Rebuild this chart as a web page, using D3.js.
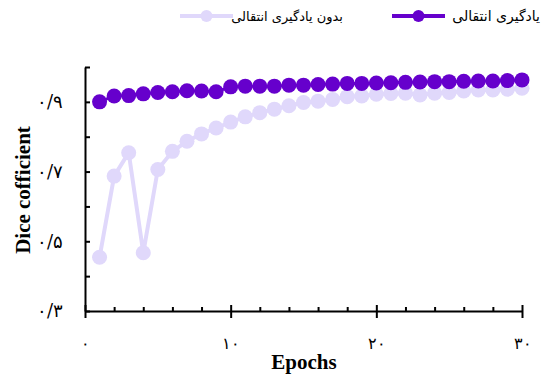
<!DOCTYPE html>
<html>
<head>
<meta charset="utf-8">
<script src="https://cdn.jsdelivr.net/npm/d3@7"></script>
<style>
  body { margin: 0; background: #fff; }
  .axis path, .axis line { stroke: #000; stroke-width: 2; }
  .axis text { font-family: "DejaVu Serif", "Liberation Serif", serif; font-size: 16px; fill: #000; }
  .axis.ylab text { font-size: 18px; }
</style>
</head>
<body>
<div id="chart"></div>
<script>
const width = 545;
const height = 374;

// ----------------------------DATA-------------------------------//
const epochs = d3.range(1, 31);
const withTransfer = [
  0.900, 0.917, 0.918, 0.923, 0.927, 0.929, 0.932, 0.931, 0.929, 0.943,
  0.945, 0.945, 0.945, 0.948, 0.948, 0.950, 0.951, 0.953, 0.953, 0.954,
  0.955, 0.956, 0.957, 0.958, 0.958, 0.959, 0.960, 0.960, 0.961, 0.963,
];
const withoutTransfer = [
  0.454, 0.687, 0.754, 0.467, 0.706, 0.758, 0.787, 0.808, 0.825, 0.842,
  0.857, 0.869, 0.879, 0.889, 0.898, 0.902, 0.907, 0.915, 0.917, 0.922,
  0.924, 0.925, 0.920, 0.925, 0.927, 0.931, 0.934, 0.934, 0.936, 0.939,
];
const seriesNames = ['یادگیری انتقالی', 'بدون یادگیری انتقالی'];
const yTicks = [0.3, 0.4, 0.5, 0.6, 0.7, 0.8, 0.9, 1.0];
const yLabels = { 0.3: '۰/۳', 0.5: '۰/۵', 0.7: '۰/۷', 0.9: '۰/۹' };
const xMajor = [0, 10, 20, 30];
const xMinor = [2, 4, 6, 8, 12, 14, 16, 18, 22, 24, 26, 28];
const xLabels = { 0: '۰', 10: '۱۰', 20: '۲۰', 30: '۳۰' };

const dark = '#6600cc';
const light = '#e0d8fb';

const svg = d3.select('#chart').append('svg')
  .attr('width', width)
  .attr('height', height);

// ----------------------------SCALES-----------------------------//
const xScale = d3.scaleLinear().domain([0, 30]).range([85, 522]);
const yScale = d3.scaleLinear().domain([0.3, 1.0]).range([311, 67]);

// -----------------------------AXES------------------------------//
// y ticks point inward, labels sit on the left
svg.append('g')
  .attr('class', 'axis')
  .attr('transform', `translate(${xScale(0)},0)`)
  .call(d3.axisRight(yScale).tickValues(yTicks).tickSize(5).tickSizeOuter(0).tickFormat(''));

svg.append('g')
  .attr('class', 'axis ylab')
  .attr('transform', `translate(${xScale(0)},0)`)
  .call(d3.axisLeft(yScale).tickValues([0.3, 0.5, 0.7, 0.9]).tickSize(0).tickPadding(22)
    .tickFormat(d => yLabels[d.toFixed(1) * 1]))
  .call(g => g.select('.domain').remove());

// x axis: major ticks cross the line, minor ticks inside
const xBase = yScale(0.3);
svg.append('g')
  .attr('class', 'axis')
  .attr('transform', `translate(0,${xBase})`)
  .call(d3.axisBottom(xScale).tickValues(xMajor).tickSize(7).tickSizeOuter(0).tickPadding(20)
    .tickFormat(d => xLabels[d]));

svg.append('g')
  .attr('class', 'axis')
  .attr('transform', `translate(0,${xBase})`)
  .call(d3.axisTop(xScale).tickValues(xMajor).tickSize(6).tickSizeOuter(0).tickFormat(''))
  .call(g => g.select('.domain').remove());

svg.append('g')
  .attr('class', 'axis')
  .attr('transform', `translate(0,${xBase})`)
  .call(d3.axisTop(xScale).tickValues(xMinor).tickSize(4).tickSizeOuter(0).tickFormat(''))
  .call(g => g.select('.domain').remove());

// axis titles
svg.append('text')
  .attr('x', 304)
  .attr('y', 369)
  .attr('text-anchor', 'middle')
  .style('font-family', '"Liberation Serif", "Times New Roman", serif')
  .style('font-weight', 'bold')
  .style('font-size', '21px')
  .text('Epochs');

svg.append('text')
  .attr('transform', 'translate(30,190) rotate(-90)')
  .attr('text-anchor', 'middle')
  .style('font-family', '"Liberation Serif", "Times New Roman", serif')
  .style('font-weight', 'bold')
  .style('font-size', '21px')
  .text('Dice cofficient');

// ----------------------------LINES------------------------------//
const line = d3.line()
  .x(d => xScale(d[0]))
  .y(d => yScale(d[1]));

const series = [
  { values: withoutTransfer, color: light, width: 4 },
  { values: withTransfer, color: dark, width: 3 },
];

series.forEach(s => {
  const pts = epochs.map((e, i) => [e, s.values[i]]);
  svg.append('path')
    .datum(pts)
    .attr('fill', 'none')
    .attr('stroke', s.color)
    .attr('stroke-width', s.width)
    .attr('d', line);
  svg.append('g')
    .selectAll('circle')
    .data(pts)
    .enter()
    .append('circle')
    .attr('cx', d => xScale(d[0]))
    .attr('cy', d => yScale(d[1]))
    .attr('r', 7.5)
    .attr('fill', s.color);
});

// ----------------------------LEGEND-----------------------------//
const legendItems = [
  { name: seriesNames[0], color: dark, x0: 392, x1: 445, tx: 540, fs: 14 },
  { name: seriesNames[1], color: light, x0: 180, x1: 233, tx: 343, fs: 13 },
];
legendItems.forEach(l => {
  svg.append('line')
    .attr('x1', l.x0).attr('x2', l.x1)
    .attr('y1', 16).attr('y2', 16)
    .attr('stroke', l.color)
    .attr('stroke-width', 4);
  svg.append('circle')
    .attr('cx', (l.x0 + l.x1) / 2)
    .attr('cy', 16)
    .attr('r', 6)
    .attr('fill', l.color);
  svg.append('text')
    .attr('x', l.tx)
    .attr('y', 21)
    .attr('text-anchor', 'end')
    .style('font-family', '"DejaVu Sans", "Noto Sans", sans-serif')
    .style('font-size', `${l.fs}px`)
    .style('fill', '#000')
    .text(l.name);
});
</script>
</body>
</html>
